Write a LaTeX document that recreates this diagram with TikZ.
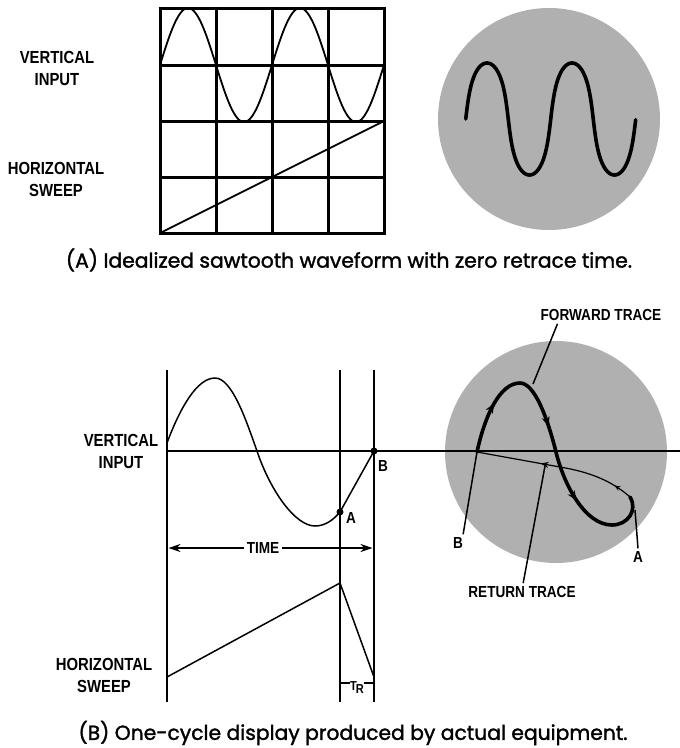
\documentclass[tikz,border=0pt]{standalone}
\usepackage{fontspec}
\setmainfont{Poppins}
\newfontfamily\capfont[FakeBold=1.6]{Poppins}
\newfontfamily\lblfont[FakeStretch=0.85]{Liberation Sans}
\usetikzlibrary{arrows.meta,decorations.markings}
\begin{document}
\begin{tikzpicture}[x=1pt,y=-1pt,
  lbl/.style={font=\lblfont\bfseries\fontsize{17.5}{22}\selectfont, align=center, inner sep=0pt},
  lblsmall/.style={font=\lblfont\bfseries\fontsize{16}{20}\selectfont, inner sep=0pt},
  captext/.style={font=\capfont\fontsize{20.3}{24}\selectfont, inner sep=0pt},
  gridline/.style={line width=3pt},
  wave/.style={line width=1.8pt},
  thinwave/.style={line width=1.5pt},
  beam/.style={line width=3.6pt, line cap=round, line join=round},
  leader/.style={line width=1.5pt},
  screen/.style={fill=black!31},
  tipmark/.style={decoration={markings,
     mark=at position 0.17 with {\arrow{Stealth[length=10pt,width=8pt]}},
     mark=at position 0.46 with {\arrow{Stealth[length=10pt,width=8pt]}},
     mark=at position 0.72 with {\arrow{Stealth[length=10pt,width=8pt]}}},
     postaction={decorate}},
  rettip/.style={decoration={markings,
     mark=at position 0.12 with {\arrow{Stealth[length=6pt,width=5pt]}},
     mark=at position 0.6 with {\arrow{Stealth[length=8pt,width=6pt]}}},
     postaction={decorate}}
]
\useasboundingbox (0,0) rectangle (680,748);

% ---------------- Panel A ----------------
\foreach \gx in {160,216,272,328,384} \draw[gridline] (\gx,6.5) -- (\gx,234.5);
\foreach \gy in {8,65,121,177,233} \draw[gridline] (158.5,\gy) -- (385.5,\gy);
\draw[wave] plot[domain=0:4, samples=160] ({160+56*\x},{65-57*sin(180*\x)});
\draw[wave] (160,233) -- (384,121);

\node[lbl] (vinA) at (57,68.5) {VERTICAL\\INPUT};
\node[lbl] (hswA) at (56,179) {HORIZONTAL\\SWEEP};

\fill[screen] (549,119) circle[radius=111pt];
\draw[beam] plot[domain=0:2, samples=200] ({465.75+85*\x-3.5*sin(720*\x)},{119-56*sin(360*\x)});

\node[captext] (capA) at (349,260) {(A) Idealized sawtooth waveform with zero retrace time.};

% ---------------- Panel B ----------------
\fill[screen] (556,452) circle[radius=111pt];

\foreach \vx in {167,340,374} \draw[line width=2.6pt] (\vx,370) -- (\vx,702);
\draw[line width=2.4pt] (167,451) -- (680,451);

\coordinate (A) at (340,512);
\coordinate (B) at (374,451);
\draw[thinwave] (167,443) .. controls (180,408) and (197,378) .. (215,378)
  .. controls (232,378) and (246,420) .. (257,451)
  .. controls (270,490) and (295,526) .. (315,526)
  .. controls (326,526) and (334,519) .. (A) -- (B);
\fill (A) circle[radius=3.5pt];
\fill (B) circle[radius=3.5pt];
\node[lblsmall] (labA) at (351,518) {A};
\node[lblsmall] (labB) at (383,466) {B};

\coordinate (tl) at (168.5,548);
\coordinate (tr) at (372.5,548);
\draw[line width=1.5pt, {Stealth[length=12pt,width=8pt]}-{Stealth[length=12pt,width=8pt]}] (tl) -- (tr);
\node[lblsmall, fill=white, inner xsep=3pt, inner ysep=2pt] (time) at (263,548) {TIME};

\coordinate (r0) at (167,677);
\coordinate (r1) at (340,583);
\coordinate (r2) at (374,677);
\draw[thinwave] (r0) -- (r1) -- (r2);

\coordinate (trl) at (341,683);
\coordinate (trr) at (373,683);
\draw[line width=1.4pt] (trl) -- (trr);
\node[font=\lblfont\bfseries\fontsize{13}{15}\selectfont, fill=white, inner sep=0.5pt] (trlab) at (357,688) {T\kern-1pt\raisebox{-3pt}{R}};

\node[lbl] (vinB) at (121,451.5) {VERTICAL\\INPUT};
\node[lbl] (hswB) at (104,675) {HORIZONTAL\\SWEEP};

% screen traces
\draw[line width=1.2pt, rettip] (630,497) .. controls (612,481) and (590,472) .. (560,467) -- (477,452);
\draw[beam, tipmark] (477,452) .. controls (485,415) and (500,383) .. (520,383)
  .. controls (535,383) and (548,420) .. (556,452)
  .. controls (564,485) and (585,525) .. (612,525)
  .. controls (628,525) and (638,510) .. (630,497);

\node[lblsmall] (fwd) at (601,315) {FORWARD TRACE};
\node[lblsmall] (ret) at (522,592) {RETURN TRACE};
\node[lblsmall] (sB) at (458,543) {B};
\node[lblsmall] (sA) at (638,557) {A};
\coordinate (fwdtip) at (533,384);
\coordinate (rettipc) at (545,466);
\coordinate (Btip) at (477,452);
\coordinate (Atip) at (635,510);
\draw[leader] ([xshift=17pt,yshift=-3pt]fwd.south west) -- (fwdtip);
\draw[leader] ([xshift=55pt,yshift=3pt]ret.north west) -- (rettipc);
\draw[leader] ([yshift=3pt]sB.north east) -- (Btip);
\draw[leader] ([yshift=3pt]sA.north) -- (Atip);

\node[captext] (capB) at (353,733) {(B) One-cycle display produced by actual equipment.};
\end{tikzpicture}
\end{document}
